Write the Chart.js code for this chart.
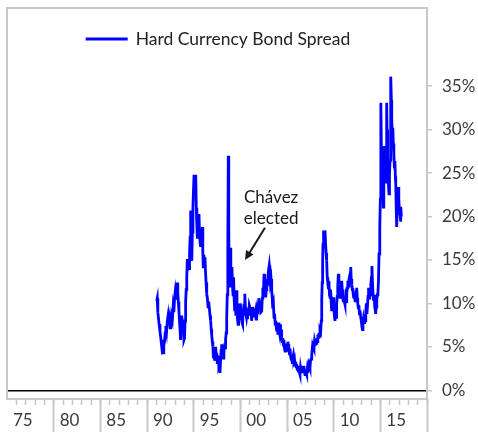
<!DOCTYPE html>
<html>
<head>
<meta charset="utf-8">
<script src="https://cdn.jsdelivr.net/npm/chart.js@4.4.1/dist/chart.umd.min.js"></script>
<style>
  html, body { margin: 0; padding: 0; background: #fff; }
  #wrap { width: 478px; height: 432px; }
</style>
</head>
<body>
<div id="wrap"><canvas id="spreadChart"></canvas></div>
<script>
// Venezuela hard currency bond spread, % (decimal year -> spread)
const years = [
  1991.04, 1991.10, 1991.16, 1991.22, 1991.30, 1991.39, 1991.48, 1991.56, 1991.64, 1991.72,
  1991.80, 1991.88, 1991.95, 1992.02, 1992.10, 1992.18, 1992.26, 1992.34, 1992.42, 1992.48,
  1992.56, 1992.64, 1992.72, 1992.80, 1992.88, 1992.95, 1993.02, 1993.10, 1993.18, 1993.25,
  1993.30, 1993.36, 1993.42, 1993.48, 1993.54, 1993.60, 1993.66, 1993.72, 1993.78, 1993.84,
  1993.90, 1993.96, 1994.02, 1994.08, 1994.14, 1994.20, 1994.26, 1994.32, 1994.38, 1994.44,
  1994.50, 1994.56, 1994.62, 1994.68, 1994.74, 1994.80, 1994.86, 1994.92, 1994.98, 1995.04,
  1995.10, 1995.16, 1995.22, 1995.28, 1995.34, 1995.39, 1995.45, 1995.51, 1995.57, 1995.63,
  1995.69, 1995.75, 1995.81, 1995.87, 1995.93, 1995.98, 1996.03, 1996.09, 1996.15, 1996.21,
  1996.27, 1996.33, 1996.40, 1996.47, 1996.54, 1996.61, 1996.68, 1996.75, 1996.82, 1996.88,
  1996.93, 1997.00, 1997.06, 1997.12, 1997.18, 1997.24, 1997.30, 1997.36, 1997.42, 1997.47,
  1997.53, 1997.59, 1997.64, 1997.70, 1997.76, 1997.82, 1997.88, 1997.94, 1998.00, 1998.06,
  1998.12, 1998.18, 1998.24, 1998.30, 1998.36, 1998.42, 1998.48, 1998.54, 1998.60, 1998.66,
  1998.71, 1998.76, 1998.81, 1998.86, 1998.92, 1998.98, 1999.04, 1999.10, 1999.16, 1999.22,
  1999.28, 1999.34, 1999.40, 1999.46, 1999.52, 1999.58, 1999.64, 1999.70, 1999.76, 1999.82,
  1999.88, 1999.94, 2000.00, 2000.06, 2000.12, 2000.18, 2000.24, 2000.30, 2000.36, 2000.42,
  2000.48, 2000.54, 2000.60, 2000.66, 2000.72, 2000.78, 2000.84, 2000.90, 2000.96, 2001.04,
  2001.10, 2001.16, 2001.21, 2001.27, 2001.33, 2001.39, 2001.45, 2001.51, 2001.57, 2001.63,
  2001.69, 2001.75, 2001.81, 2001.87, 2001.93, 2001.98, 2002.03, 2002.09, 2002.15, 2002.21,
  2002.29, 2002.35, 2002.41, 2002.47, 2002.54, 2002.60, 2002.66, 2002.72, 2002.78, 2002.84,
  2002.89, 2002.95, 2003.02, 2003.10, 2003.16, 2003.22, 2003.29, 2003.36, 2003.42, 2003.48,
  2003.55, 2003.61, 2003.67, 2003.74, 2003.80, 2003.86, 2003.90, 2003.96, 2004.02, 2004.08,
  2004.14, 2004.20, 2004.25, 2004.31, 2004.37, 2004.43, 2004.49, 2004.55, 2004.61, 2004.67,
  2004.73, 2004.79, 2004.85, 2004.91, 2004.97, 2005.03, 2005.09, 2005.14, 2005.20, 2005.26,
  2005.32, 2005.38, 2005.44, 2005.50, 2005.56, 2005.62, 2005.68, 2005.74, 2005.80, 2005.86,
  2005.92, 2005.98, 2006.04, 2006.10, 2006.16, 2006.22, 2006.28, 2006.34, 2006.39, 2006.45,
  2006.51, 2006.57, 2006.63, 2006.69, 2006.75, 2006.81, 2006.87, 2006.93, 2006.99, 2007.05,
  2007.11, 2007.17, 2007.23, 2007.29, 2007.35, 2007.41, 2007.46, 2007.52, 2007.58, 2007.65,
  2007.71, 2007.77, 2007.83, 2007.89, 2007.95, 2008.00, 2008.06, 2008.12, 2008.18, 2008.24,
  2008.30, 2008.35, 2008.41, 2008.47, 2008.53, 2008.61, 2008.67, 2008.72, 2008.77, 2008.82,
  2008.86, 2008.89, 2008.95, 2009.01, 2009.07, 2009.13, 2009.19, 2009.25, 2009.31, 2009.37,
  2009.43, 2009.49, 2009.55, 2009.61, 2009.67, 2009.73, 2009.79, 2009.85, 2009.91, 2009.96,
  2010.02, 2010.08, 2010.14, 2010.20, 2010.26, 2010.32, 2010.38, 2010.44, 2010.50, 2010.56,
  2010.62, 2010.68, 2010.74, 2010.80, 2010.86, 2010.92, 2010.98, 2011.03, 2011.09, 2011.15,
  2011.21, 2011.27, 2011.33, 2011.40, 2011.46, 2011.52, 2011.58, 2011.64, 2011.68, 2011.74,
  2011.79, 2011.83, 2011.88, 2011.94, 2012.00, 2012.04, 2012.10, 2012.16, 2012.22, 2012.29,
  2012.35, 2012.41, 2012.47, 2012.53, 2012.58, 2012.64, 2012.70, 2012.76, 2012.82, 2012.90,
  2012.96, 2013.02, 2013.08, 2013.14, 2013.20, 2013.26, 2013.32, 2013.38, 2013.44, 2013.50,
  2013.56, 2013.62, 2013.68, 2013.74, 2013.80, 2013.86, 2013.92, 2013.98, 2014.04, 2014.10,
  2014.16, 2014.22, 2014.28, 2014.34, 2014.40, 2014.46, 2014.50, 2014.56, 2014.62, 2014.68,
  2014.74, 2014.80, 2014.86, 2014.92, 2014.96, 2015.00, 2015.04, 2015.07, 2015.11, 2015.16,
  2015.21, 2015.26, 2015.32, 2015.37, 2015.43, 2015.48, 2015.53, 2015.57, 2015.62, 2015.68,
  2015.72, 2015.76, 2015.82, 2015.88, 2015.93, 2015.98, 2016.04, 2016.09, 2016.14, 2016.18,
  2016.22, 2016.28, 2016.34, 2016.39, 2016.45, 2016.50, 2016.56, 2016.61, 2016.65, 2016.70,
  2016.75, 2016.80, 2016.86, 2016.93, 2016.98, 2017.04, 2017.11, 2017.16, 2017.21, 2017.26
];
const spread = [
  10.3, 10.6, 9.0, 8.4, 7.6, 6.8, 6.0, 5.2, 5.8, 4.3,
  5.2, 5.6, 6.6, 7.4, 6.8, 8.0, 8.6, 7.6, 8.2, 7.2,
  8.0, 8.6, 8.2, 9.6, 9.0, 10.6, 11.3, 10.4, 11.6, 12.4,
  11.2, 10.2, 9.2, 8.0, 7.0, 5.8, 7.0, 8.6, 8.0, 6.6,
  7.8, 5.8, 6.0, 8.0, 10.2, 11.6, 13.0, 15.1, 13.8, 15.0,
  14.0, 15.8, 17.6, 20.7, 17.0, 14.9, 18.2, 21.0, 23.0, 24.8,
  22.6, 23.6, 24.8, 21.0, 19.0, 17.6, 19.8, 18.6, 20.3, 18.0,
  17.0, 16.5, 18.0, 17.2, 18.8, 16.0, 14.2, 15.6, 14.8, 15.3,
  13.6, 12.4, 11.1, 10.6, 9.6, 10.2, 9.5, 8.6, 8.0, 7.0,
  6.4, 5.6, 5.0, 3.7, 4.6, 3.4, 4.2, 5.0, 3.8, 4.3,
  3.2, 4.0, 3.4, 2.8, 3.0, 2.0, 3.4, 4.6, 5.3, 4.2,
  4.8, 3.7, 4.4, 5.0, 4.9, 5.8, 6.6, 8.4, 11.0, 17.0,
  27.0, 19.0, 12.0, 13.0, 16.4, 13.4, 12.6, 14.2, 12.0, 11.0,
  13.0, 10.4, 9.1, 10.2, 8.6, 11.5, 9.4, 8.2, 7.6, 9.0,
  8.2, 10.0, 9.5, 8.4, 8.8, 7.8, 7.6, 9.2, 8.6, 9.8,
  11.1, 9.6, 8.8, 8.4, 9.0, 8.2, 9.4, 8.8, 9.8, 9.5,
  8.6, 9.2, 8.0, 8.8, 9.6, 9.1, 8.4, 9.4, 8.6, 9.0,
  8.2, 8.4, 9.2, 8.8, 10.0, 10.6, 10.3, 9.4, 10.2, 9.0,
  9.1, 10.6, 11.8, 11.0, 13.4, 11.4, 12.0, 10.7, 11.6, 12.8,
  12.2, 13.0, 13.8, 14.4, 13.6, 12.4, 12.8, 11.5, 10.6, 9.4,
  9.8, 8.4, 8.8, 7.6, 8.0, 7.2, 6.8, 7.6, 6.4, 7.8,
  7.0, 6.6, 7.6, 6.4, 7.0, 6.1, 5.6, 6.0, 5.2, 5.8,
  4.8, 4.5, 5.0, 4.6, 5.4, 4.8, 5.6, 5.3, 4.6, 4.2,
  4.8, 4.0, 3.6, 3.7, 3.2, 3.8, 4.1, 3.4, 3.6, 2.9,
  3.3, 2.7, 3.0, 2.4, 2.8, 2.2, 2.6, 2.0, 1.8, 2.6,
  2.2, 2.8, 2.4, 2.0, 2.4, 2.8, 2.2, 1.8, 2.4, 2.0,
  1.8, 2.4, 2.0, 2.6, 2.2, 2.8, 2.6, 3.4, 3.6, 4.1,
  4.8, 4.4, 5.0, 4.8, 5.6, 5.3, 5.8, 5.4, 6.0, 5.6,
  6.4, 6.1, 6.6, 6.2, 7.0, 6.8, 8.0, 10.3, 12.4, 14.9,
  16.8, 18.4, 17.6, 18.2, 18.4, 17.0, 15.8, 14.9, 13.0, 12.4,
  11.8, 12.6, 11.0, 10.7, 11.6, 10.2, 9.1, 10.0, 9.6, 10.7,
  9.4, 8.6, 8.0, 9.0, 8.4, 9.9, 10.8, 12.0, 13.4, 12.2,
  11.4, 10.7, 11.8, 11.2, 12.6, 11.6, 10.6, 10.3, 10.8, 10.2,
  9.9, 10.6, 10.2, 11.2, 11.8, 12.6, 12.0, 12.8, 13.0, 12.4,
  13.4, 14.2, 12.8, 12.2, 11.6, 11.8, 11.0, 10.6, 11.2, 10.3,
  10.8, 11.4, 11.8, 10.6, 10.0, 9.5, 9.8, 8.8, 9.2, 8.4,
  8.0, 7.4, 7.0, 7.6, 8.2, 7.8, 8.6, 8.0, 9.0, 10.0,
  8.8, 9.6, 10.8, 11.8, 10.6, 11.5, 11.0, 12.2, 13.0, 14.3,
  12.4, 11.0, 10.3, 11.0, 9.6, 9.2, 8.8, 9.6, 10.4, 11.0,
  11.1, 12.6, 15.7, 17.4, 18.8, 22.0, 26.5, 33.1, 28.0, 25.7,
  27.6, 24.0, 21.1, 25.0, 28.1, 26.0, 24.4, 23.8, 27.0, 33.1,
  30.0, 28.4, 25.6, 23.4, 22.6, 24.8, 26.5, 30.4, 36.1, 33.4,
  31.2, 29.4, 30.2, 28.4, 27.2, 25.7, 26.4, 24.6, 23.8, 21.2,
  18.8, 20.4, 22.6, 23.4, 22.0, 20.8, 20.3, 19.4, 21.1, 20.0
];

const yTicks = [0, 5, 10, 15, 20, 25, 30, 35];
const xTickLabels = ['75', '80', '85', '90', '95', '00', '05', '10', '15'];
const xDivisionYears = [1975, 1980, 1985, 1990, 1995, 2000, 2005, 2010, 2015, 2020];

const FONT = 'Lato, "Noto Sans", sans-serif';
const GREY = '#c8c8c8';

// grey box around the plot area
const plotFrame = {
  id: 'plotFrame',
  beforeDatasetsDraw(chart) {
    const { ctx, chartArea: a } = chart;
    ctx.save();
    ctx.strokeStyle = GREY;
    ctx.lineWidth = 2;
    ctx.strokeRect(a.left, a.top, a.right - a.left, a.bottom - a.top);
    ctx.restore();
  }
};

// legend drawn inside the plot frame, centred at the top
const insideLegend = {
  id: 'insideLegend',
  afterDraw(chart, args, opts) {
    const { ctx, chartArea: a } = chart;
    const ds = chart.data.datasets[0];
    ctx.save();
    ctx.font = opts.font;
    const tw = ctx.measureText(ds.label).width;
    const total = opts.lineLength + opts.gap + tw;
    const x0 = (a.left + a.right) / 2 - total / 2 + opts.shiftX;
    const y = a.top + opts.offsetY;
    ctx.strokeStyle = ds.borderColor;
    ctx.lineWidth = ds.borderWidth;
    ctx.beginPath();
    ctx.moveTo(x0, y);
    ctx.lineTo(x0 + opts.lineLength, y);
    ctx.stroke();
    ctx.fillStyle = opts.color;
    ctx.textAlign = 'left';
    ctx.textBaseline = 'middle';
    ctx.fillText(ds.label, x0 + opts.lineLength + opts.gap, y);
    ctx.restore();
  }
};

// "Chávez elected" note with an arrow, placed in data units
const chavezNote = {
  id: 'chavezNote',
  afterDatasetsDraw(chart, args, opts) {
    const { ctx, scales: { x, y } } = chart;
    ctx.save();
    ctx.font = opts.font;
    ctx.fillStyle = opts.color;
    ctx.textAlign = 'center';
    ctx.textBaseline = 'middle';
    const tx = x.getPixelForValue(opts.textAt[0]);
    const ty = y.getPixelForValue(opts.textAt[1]);
    opts.lines.forEach((t, i) => ctx.fillText(t, tx, ty + i * opts.lineGap));

    const x1 = x.getPixelForValue(opts.from[0]), y1 = y.getPixelForValue(opts.from[1]);
    const x2 = x.getPixelForValue(opts.to[0]), y2 = y.getPixelForValue(opts.to[1]);
    const ang = Math.atan2(y2 - y1, x2 - x1);
    const head = 10;
    ctx.strokeStyle = opts.color;
    ctx.lineWidth = 2;
    ctx.beginPath();
    ctx.moveTo(x1, y1);
    ctx.lineTo(x2 - Math.cos(ang) * head * 0.8, y2 - Math.sin(ang) * head * 0.8);
    ctx.stroke();
    ctx.beginPath();
    ctx.moveTo(x2, y2);
    ctx.lineTo(x2 - head * Math.cos(ang - 0.45), y2 - head * Math.sin(ang - 0.45));
    ctx.lineTo(x2 - head * Math.cos(ang + 0.45), y2 - head * Math.sin(ang + 0.45));
    ctx.closePath();
    ctx.fill();
    ctx.restore();
  }
};

// keep axis label overhang from shrinking the plot area
function noPadding(s) {
  s.paddingTop = 0;
  s.paddingBottom = 0;
  s.paddingLeft = 0;
  s.paddingRight = 0;
}

function drawChart() {
  const ctx = document.getElementById('spreadChart').getContext('2d');
  Chart.defaults.font.family = FONT;
  Chart.defaults.font.size = 17;
  Chart.defaults.color = '#3a3a3a';

  window.spreadChart = new Chart(ctx, {
    type: 'line',
    data: {
      datasets: [{
        label: 'Hard Currency Bond Spread',
        data: years.map((yr, i) => ({ x: yr, y: spread[i] })),
        borderColor: '#0000ff',
        borderWidth: 2.8,
        pointRadius: 0,
        tension: 0,
        fill: false
      }]
    },
    options: {
      responsive: true,
      maintainAspectRatio: false,
      animation: false,
      layout: { padding: { left: 7, top: 8, right: 0, bottom: 0 } },
      plugins: {
        legend: { display: false },
        tooltip: { enabled: false },
        insideLegend: { font: '17.5px ' + FONT, color: '#222', lineLength: 42, gap: 8, offsetY: 31, shiftX: 1 },
        chavezNote: {
          font: '17px ' + FONT, color: '#1a1a1a',
          lines: ['Chávez', 'elected'], textAt: [2003.3, 22.2], lineGap: 21,
          from: [2002.64, 18.7], to: [2000.5, 15.0]
        }
      },
      scales: {
        // yearly minor ticks
        x: {
          type: 'linear', position: 'bottom', weight: 0,
          min: 1975, max: 2020,
          afterBuildTicks: s => {
            const t = [];
            for (let v = 1976; v <= 2020; v++) t.push({ value: v });
            s.ticks = t;
          },
          afterFit: s => { s.height = 0; noPadding(s); },
          ticks: { display: false },
          grid: { drawOnChartArea: false, tickLength: 6, tickColor: GREY, tickWidth: 1.5 },
          border: { display: false }
        },
        // five-year divisions, each label sitting just right of its division line
        x2: {
          type: 'linear', position: 'bottom', weight: 1,
          min: 1975, max: 2020,
          afterBuildTicks: s => { s.ticks = xDivisionYears.map(v => ({ value: v })); },
          afterFit: s => { s.height = 33; noPadding(s); },
          ticks: {
            autoSkip: false, maxRotation: 0, padding: -22, align: 'start', labelOffset: 6,
            callback: (v, i) => xTickLabels[i] || ''
          },
          grid: {
            drawOnChartArea: false, tickLength: 33, tickWidth: 2,
            tickColor: c => (c.tick && c.tick.value > 1975 ? GREY : 'rgba(0,0,0,0)')
          },
          border: { display: false }
        },
        y: {
          type: 'linear', position: 'right',
          min: -1, max: 44,
          afterBuildTicks: s => { s.ticks = yTicks.map(v => ({ value: v })); },
          afterFit: s => { s.width = 51; noPadding(s); },
          ticks: { padding: 10, callback: v => v + '%' },
          grid: {
            color: c => (c.tick && c.tick.value === 0 ? '#000' : 'rgba(0,0,0,0)'),
            lineWidth: 1.5, tickLength: 5, tickColor: GREY, tickWidth: 1.5
          },
          border: { display: false }
        }
      }
    },
    plugins: [plotFrame, insideLegend, chavezNote]
  });
}

document.fonts.load('17px Lato').then(drawChart, drawChart);
</script>
</body>
</html>
